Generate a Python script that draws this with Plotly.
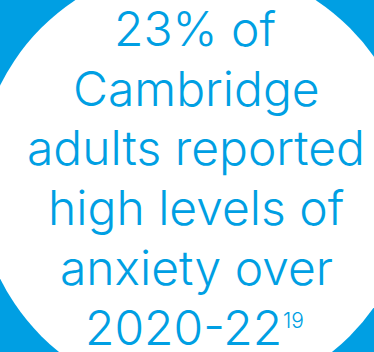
import plotly.graph_objects as go

# Text content
lines = ["23% of", "Cambridge", "adults reported", "high levels of", "anxiety over", "2020-22"]
line_centers = [195, 196, 196, 196, 196, 183]
footnote = "19"
baselines = [48, 108, 167, 227, 287, 347]

BLUE = "#009FE3"
W, H = 374, 352
cx, cy, r = 195.5, 182, 218
FS = 48

fig = go.Figure()
fig.add_shape(type="circle", xref="x", yref="y",
              x0=cx - r, x1=cx + r, y0=cy - r, y1=cy + r,
              fillcolor="white", line=dict(width=0), layer="below")

for txt, xc, b in zip(lines, line_centers, baselines):
    fig.add_annotation(x=xc / W, y=1 - (b + 11.5) / H, xref="paper", yref="paper", text=txt,
                       showarrow=False, xanchor="center", yanchor="bottom",
                       font=dict(family="Inter", size=FS, color=BLUE, weight=300))

fig.add_annotation(x=281 / W, y=1 - 306 / H, xref="paper", yref="paper", text=footnote,
                   showarrow=False, xanchor="left", yanchor="top",
                   font=dict(family="Inter", size=21, color=BLUE, weight=300))

fig.update_layout(
    width=W, height=H,
    margin=dict(l=0, r=0, t=0, b=0),
    paper_bgcolor=BLUE, plot_bgcolor=BLUE,
    showlegend=False,
    xaxis=dict(range=[0, W], visible=False, fixedrange=True),
    yaxis=dict(range=[H, 0], visible=False, fixedrange=True),
)
fig.write_html("out.html", config={"displayModeBar": False},
               post_script="document.body.style.margin='0';document.body.style.background='#009FE3';")
